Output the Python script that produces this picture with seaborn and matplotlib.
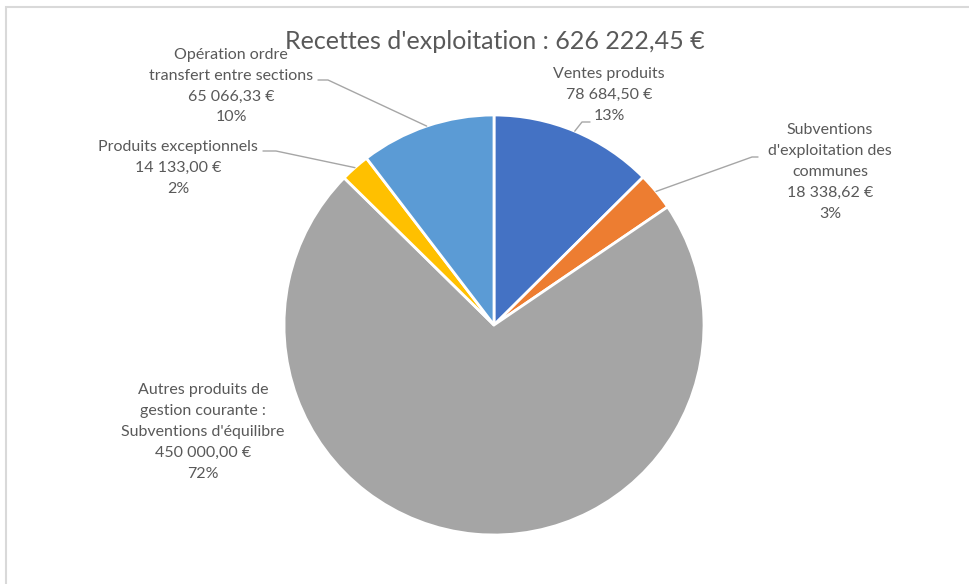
import numpy as np
import seaborn as sns
import matplotlib.pyplot as plt
from matplotlib.patches import Rectangle

sns.set_theme(style="white")
plt.rcParams['font.family'] = ['Lato', 'DejaVu Sans']

# données
categories = [
    "Ventes produits",
    "Subventions\nd'exploitation des\ncommunes",
    "Autres produits de\ngestion courante :\nSubventions d'équilibre",
    "Produits exceptionnels",
    "Opération ordre\ntransfert entre sections",
]
valeurs = [78684.50, 18338.62, 450000.00, 14133.00, 65066.33]
couleurs = ["#4472C4", "#ED7D31", "#A5A5A5", "#FFC000", "#5B9BD5"]

W, H = 970, 584
total = sum(valeurs)


def euros(v):
    s = f"{v:,.2f}".replace(",", " ").replace(".", ",")
    return s + " €"


fig = plt.figure(figsize=(W / 100, H / 100), dpi=100)
ax = fig.add_axes([0, 0, 1, 1])

# camembert (centre et rayon en pixels)
cx, cy, r = 494, H - 325, 210
wedges, _ = ax.pie(valeurs, colors=couleurs, startangle=90, counterclock=False,
                   center=(cx, cy), radius=r, frame=True,
                   wedgeprops=dict(edgecolor="white", linewidth=2))
ax.set_xlim(0, W)
ax.set_ylim(0, H)
ax.axis("off")

# position des étiquettes (x, y depuis le haut) et coudes des lignes de rappel
pos_etiquettes = [(609, 95), (830, 172), (203, 432), (178, 168), (231, 86)]
coudes = [[(582, 122), (590, 122)],
          [(752, 157), (758, 157)],
          None,
          [(276, 151), (263, 151)],
          [(328, 80), (318, 80)]]

gris_texte = "#595959"
for w, lab, v, (lx, ly), coude in zip(wedges, categories, valeurs, pos_etiquettes, coudes):
    pct = round(v / total * 100)
    ax.text(lx, H - ly, f"{lab}\n{euros(v)}\n{pct}%", ha="center", va="center",
            fontsize=11.5, color=gris_texte, linespacing=1.62, zorder=5)
    if coude is not None:
        ang = np.deg2rad((w.theta1 + w.theta2) / 2)
        pts = [(cx + r * np.cos(ang), cy + r * np.sin(ang))] + [(x, H - y) for x, y in coude]
        xs, ys = zip(*pts)
        ax.plot(xs, ys, color="#A6A6A6", lw=1)

ax.text(495, H - 41, f"Recettes d'exploitation : {euros(total)}", ha="center", va="center",
        fontsize=18, color=gris_texte)

# cadre
ax.add_patch(Rectangle((6.5, -20), W, H - 6.5 + 20, fill=False, edgecolor="#D9D9D9",
                       lw=1.5, clip_on=False))

fig.savefig("out.png", dpi=100)
